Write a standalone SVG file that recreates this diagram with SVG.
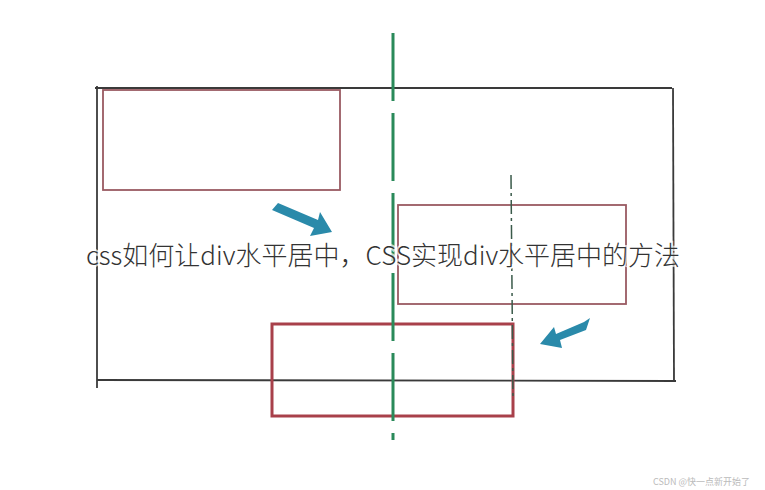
<svg xmlns="http://www.w3.org/2000/svg" width="765" height="490" viewBox="0 0 765 490">
<style>
.frame{stroke:#3a3a3a;stroke-width:1.8;fill:none}
.box{stroke:#9a5a62;stroke-width:1.8;fill:none}
.boxb{stroke:#a8404a;stroke-width:3;fill:none}
.arr{fill:#2a8aaa}
</style>
<rect width="765" height="490" fill="#fff"/>
<g id="frame">
<line class="frame" x1="95" y1="88" x2="672" y2="88"/>
<line class="frame" x1="97" y1="86" x2="97" y2="388"/>
<line class="frame" x1="673" y1="88" x2="674" y2="380"/>
<line class="frame" x1="97" y1="380" x2="676" y2="381"/>
</g>
<g id="box-top-left"><rect class="box" x="103" y="90" width="237" height="100"/></g>
<g id="box-right"><rect class="box" x="398" y="205" width="228" height="99"/></g>
<g id="box-bottom"><rect class="boxb" x="272" y="324" width="241" height="92"/></g>
<g id="connectors">
<line x1="393" y1="33" x2="393" y2="440" stroke="#2a8a5a" stroke-width="3" stroke-dasharray="68,12"/>
<line x1="511" y1="175" x2="513" y2="400" stroke="#3a5a4a" stroke-width="1.5" stroke-dasharray="14,4,3,4"/>
<polygon class="arr" points="272,210 278,203 318,220 320,212 332,232 310,236 314,228"/>
<polygon class="arr" points="590,318 586,330 560,340 562,348 540,344 554,327 556,334 584,322"/>
</g>
<text x="383" y="265" text-anchor="middle" font-family="Noto Sans CJK SC, sans-serif" font-size="26" font-weight="300" fill="#333" stroke="#fff" stroke-width="4" paint-order="stroke" stroke-opacity="0.7">css如何让div水平居中，CSS实现div水平居中的方法</text>
<text x="750" y="485" text-anchor="end" font-family="Noto Sans CJK SC, sans-serif" font-size="9" fill="#bbb">CSDN @快一点新开始了</text>
</svg>
